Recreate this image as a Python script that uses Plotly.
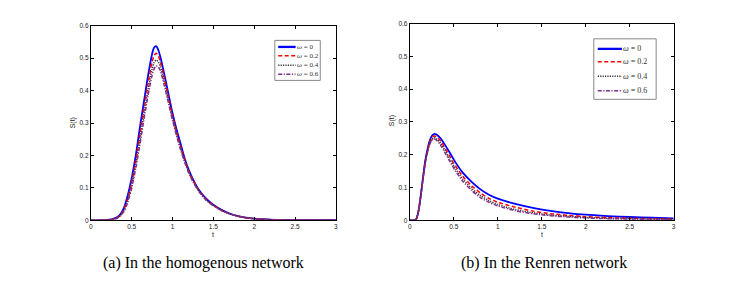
import plotly.graph_objects as go

# ---------------- data ----------------
series_names = ["ω = 0", "ω = 0.2", "ω = 0.4", "ω = 0.6"]

t_a = [0.0, 0.1, 0.2, 0.25, 0.3, 0.35, 0.4, 0.45, 0.5, 0.55, 0.6, 0.65, 0.7, 0.75, 0.775, 0.8,
       0.825, 0.85, 0.9, 0.95, 1.0, 1.05, 1.1, 1.15, 1.2, 1.25, 1.3, 1.35, 1.4, 1.45, 1.5,
       1.6, 1.7, 1.8, 1.9, 2.0, 2.2, 2.4, 2.6, 2.8, 3.0]
a_w0 = [0, 0, 0.001, 0.003, 0.007, 0.015, 0.035, 0.075, 0.13, 0.2, 0.285, 0.366, 0.445, 0.513, 0.533, 0.537,
        0.526, 0.505, 0.45, 0.39, 0.33, 0.28, 0.235, 0.19, 0.155, 0.127, 0.103, 0.085, 0.07, 0.058, 0.048,
        0.032, 0.021, 0.013, 0.008, 0.005, 0.002, 0.001, 0.0004, 0.0002, 0.0001]
a_w2 = [0, 0, 0.001, 0.002, 0.006, 0.013, 0.031, 0.066, 0.118, 0.185, 0.265, 0.345, 0.422, 0.488, 0.508, 0.515,
        0.508, 0.49, 0.438, 0.38, 0.323, 0.273, 0.228, 0.186, 0.151, 0.124, 0.101, 0.083, 0.068, 0.056, 0.047,
        0.031, 0.02, 0.013, 0.008, 0.005, 0.002, 0.001, 0.0004, 0.0002, 0.0001]
a_w4 = [0, 0, 0.001, 0.002, 0.005, 0.012, 0.028, 0.06, 0.108, 0.172, 0.248, 0.327, 0.402, 0.466, 0.486, 0.494,
        0.489, 0.475, 0.426, 0.37, 0.315, 0.266, 0.222, 0.182, 0.148, 0.121, 0.099, 0.081, 0.066, 0.055, 0.046,
        0.031, 0.02, 0.013, 0.008, 0.005, 0.002, 0.001, 0.0004, 0.0002, 0.0001]
a_w6 = [0, 0, 0.001, 0.002, 0.004, 0.011, 0.025, 0.054, 0.099, 0.16, 0.232, 0.31, 0.384, 0.447, 0.467, 0.476,
        0.473, 0.462, 0.415, 0.362, 0.308, 0.26, 0.217, 0.178, 0.145, 0.119, 0.097, 0.08, 0.065, 0.054, 0.045,
        0.03, 0.02, 0.013, 0.008, 0.005, 0.002, 0.001, 0.0004, 0.0002, 0.0001]

t_b = [0.0, 0.05, 0.075, 0.1, 0.125, 0.15, 0.175, 0.2, 0.225, 0.25, 0.275, 0.3, 0.35, 0.4, 0.45,
       0.5, 0.6, 0.7, 0.8, 0.9, 1.0, 1.2, 1.4, 1.6, 1.8, 2.0, 2.25, 2.5, 2.75, 3.0]
b_w0 = [0, 0, 0.005, 0.03, 0.075, 0.13, 0.18, 0.215, 0.242, 0.257, 0.263, 0.262, 0.25, 0.23, 0.208,
        0.185, 0.146, 0.118, 0.095, 0.078, 0.066, 0.05, 0.038, 0.029, 0.022, 0.017, 0.013, 0.01, 0.008, 0.006]
b_w2 = [0, 0, 0.005, 0.03, 0.075, 0.128, 0.177, 0.211, 0.237, 0.252, 0.257, 0.255, 0.242, 0.22, 0.197,
        0.174, 0.135, 0.106, 0.084, 0.067, 0.055, 0.04, 0.028, 0.02, 0.015, 0.011, 0.008, 0.006, 0.005, 0.004]
b_w4 = [0, 0, 0.005, 0.03, 0.075, 0.127, 0.175, 0.208, 0.233, 0.247, 0.252, 0.249, 0.235, 0.213, 0.189,
        0.166, 0.127, 0.098, 0.076, 0.06, 0.048, 0.033, 0.023, 0.016, 0.012, 0.009, 0.006, 0.005, 0.004, 0.003]
b_w6 = [0, 0, 0.005, 0.03, 0.075, 0.126, 0.173, 0.205, 0.23, 0.243, 0.248, 0.245, 0.229, 0.206, 0.182,
        0.159, 0.12, 0.092, 0.07, 0.055, 0.044, 0.029, 0.02, 0.014, 0.01, 0.007, 0.005, 0.004, 0.003, 0.002]

x_ticks = [0, 0.5, 1, 1.5, 2, 2.5, 3]
x_tick_labels = ["0", "0.5", "1", "1.5", "2", "2.5", "3"]
y_ticks = [0, 0.1, 0.2, 0.3, 0.4, 0.5, 0.6]
y_tick_labels = ["0", "0.1", "0.2", "0.3", "0.4", "0.5", "0.6"]
captions = ["(a) In the homogenous network", "(b) In the Renren network"]

# ---------------- styles ----------------
W, H = 742, 287
colors = ["#0000ff", "#ff0000", "#333333", "#7e2f8e"]
dashes = ["solid", "4px,2.5px", "1.2px,1.2px", "4px,1.5px,1.2px,1.5px"]
widths = [1.8, 1.5, 1.5, 1.5]

def px(x):
    return x / W

def py(y):
    return 1 - y / H

fig = go.Figure()

for ys, xa, ya in [([a_w0, a_w2, a_w4, a_w6], "x", "y"), ([b_w0, b_w2, b_w4, b_w6], "x2", "y2")]:
    tt = t_a if xa == "x" else t_b
    for i, vals in enumerate(ys):
        fig.add_trace(go.Scatter(
            x=tt, y=vals, mode="lines", name=series_names[i], showlegend=False,
            xaxis=xa, yaxis=ya,
            line=dict(color=colors[i], width=widths[i], dash=dashes[i],
                      shape="spline", smoothing=0.8),
            hoverinfo="skip"))

tickfont = dict(family="Liberation Sans, Arial", size=6.5, color="#222")
axis_common = dict(showline=True, linecolor="black", linewidth=1, mirror="ticks",
                   ticks="inside", ticklen=3, tickcolor="black", tickwidth=1,
                   showgrid=False, zeroline=False, tickfont=tickfont)

fig.update_layout(
    width=W, height=H, autosize=False,
    margin=dict(l=0, r=0, t=0, b=0),
    paper_bgcolor="white", plot_bgcolor="white",
    xaxis=dict(domain=[px(89.3), px(335.7)], range=[0, 3], tickvals=x_ticks,
               ticktext=x_tick_labels, anchor="y", **axis_common),
    yaxis=dict(domain=[py(221.7), py(22.3)], range=[0, 0.6], tickvals=y_ticks,
               ticktext=y_tick_labels, anchor="x", **axis_common),
    xaxis2=dict(domain=[px(410), px(675.3)], range=[0, 3], tickvals=x_ticks,
                ticktext=x_tick_labels, anchor="y2", **axis_common),
    yaxis2=dict(domain=[py(221.7), py(20)], range=[0, 0.6], tickvals=y_ticks,
                ticktext=y_tick_labels, anchor="x2", **axis_common),
)

annotations = []
shapes = []
labfont = dict(family="Liberation Sans, Arial", size=7, color="#222")
# axis titles
for xc, yc in [(71.7, 122), (392.3, 120)]:
    annotations.append(dict(x=px(xc), y=py(yc), xref="paper", yref="paper", text="S(t)",
                            textangle=-90, showarrow=False, font=labfont,
                            xanchor="center", yanchor="middle"))
for xc in [(89.3 + 335.7) / 2, (410 + 675.3) / 2]:
    annotations.append(dict(x=px(xc), y=py(236), xref="paper", yref="paper", text="t",
                            showarrow=False, font=labfont, xanchor="center", yanchor="middle"))
# captions
capfont = dict(family="Liberation Serif, Times New Roman", size=16, color="black")
for xc, txt in [(203, captions[0]), (545, captions[1])]:
    annotations.append(dict(x=px(xc), y=py(265), xref="paper", yref="paper", text=txt,
                            showarrow=False, font=capfont, xanchor="center", yanchor="middle"))

# legends (box, sample lines, labels)
legend_specs = [
    dict(box=(274.3, 37.3, 320, 78.3), ys=[44, 53, 62.7, 72], lx=(277.7, 295.2), fs=7),
    dict(box=(595, 35.7, 657.7, 97.7), ys=[46, 59.3, 74, 89], lx=(599, 623.3), fs=8),
]
for spec in legend_specs:
    x0, y0, x1, y1 = spec["box"]
    legfont = dict(family="Liberation Serif, Times New Roman", size=spec["fs"], color="#333")
    shapes.append(dict(type="rect", xref="paper", yref="paper",
                       x0=px(x0), x1=px(x1), y0=py(y1), y1=py(y0),
                       line=dict(color="#888", width=1), fillcolor="white", layer="above"))
    for i, yy in enumerate(spec["ys"]):
        shapes.append(dict(type="line", xref="paper", yref="paper",
                           x0=px(spec["lx"][0]), x1=px(spec["lx"][1]), y0=py(yy), y1=py(yy),
                           line=dict(color=colors[i], width=widths[i] + 0.5 if i == 0 else widths[i],
                                     dash=dashes[i]), layer="above"))
        name = series_names[i].replace("ω", "<i>ω</i>")
        annotations.append(dict(x=px(spec["lx"][1] - 1), y=py(yy), xref="paper", yref="paper",
                                text=name, showarrow=False, xanchor="left", yanchor="middle",
                                font=legfont))

fig.update_layout(annotations=annotations, shapes=shapes)

fig.write_html("out.html", config={"displayModeBar": False},
               post_script="document.body.style.margin='0';document.body.style.overflow='hidden';")
